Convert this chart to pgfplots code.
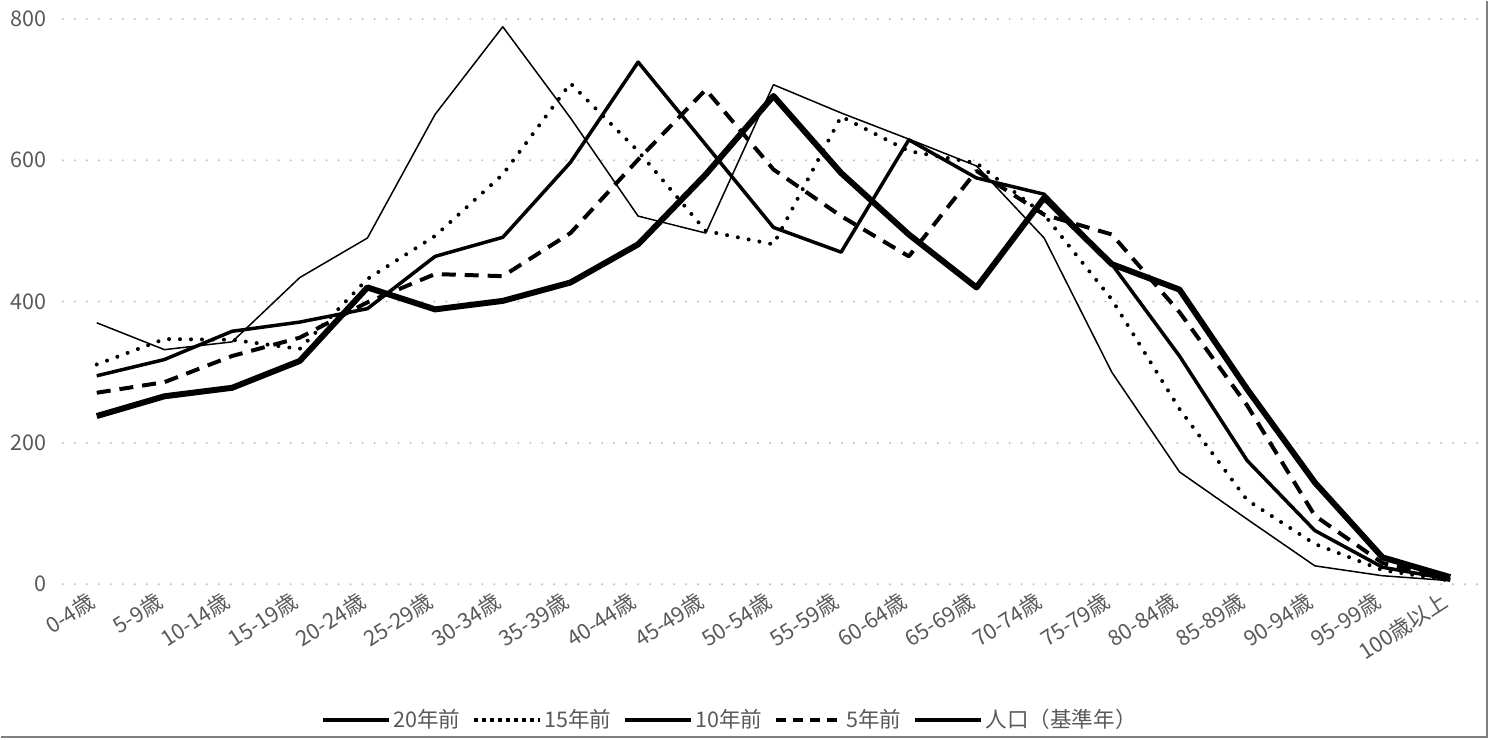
\documentclass[border=0pt]{standalone}
\usepackage{pgfplots}
\pgfplotsset{compat=1.18}
\usepackage{fontspec}
\setmainfont{Noto Sans CJK JP}

\definecolor{tickgray}{HTML}{595959}
\definecolor{gridgray}{HTML}{BFBFBF}
\definecolor{bordergray}{HTML}{7F7F7F}

\begin{document}
\begin{tikzpicture}
\begin{axis}[
  scale only axis, width=711.5pt, height=283pt,
  xmin=-0.5, xmax=20.5, ymin=0, ymax=800,
  xtick={0,...,20},
  xticklabels={0-4歳,5-9歳,10-14歳,15-19歳,20-24歳,25-29歳,30-34歳,35-39歳,40-44歳,45-49歳,50-54歳,55-59歳,60-64歳,65-69歳,70-74歳,75-79歳,80-84歳,85-89歳,90-94歳,95-99歳,100歳以上},
  ytick={0,200,400,600,800},
  axis line style={draw=none}, major tick length=0pt,
  ymajorgrids,
  grid style={gridgray, line width=1.1pt, line cap=round, dash pattern=on 0pt off 6pt},
  /pgf/number format/assume math mode=true,
  ticklabel style={font=\fontsize{10.8}{12}\selectfont, text=tickgray},
  yticklabel style={anchor=east, inner sep=0pt, xshift=-8pt},
  xticklabel style={xshift=-5pt, yshift=-3pt, rotate=33, anchor=north east, inner sep=0pt},
  legend image code/.code={\draw[#1] (0pt,0pt) -- (33pt,0pt);},
  legend style={draw=none, fill=none, at={(0.4694,-0.2403)}, anchor=center,
    legend columns=-1, font=\fontsize{10.8}{12}\selectfont, text=tickgray,
    nodes={inner sep=1pt},
    /tikz/every even column/.append style={column sep=5pt}},
  line join=round,
]
% 20年前
\addplot[black, line width=0.75pt, forget plot] coordinates {
 (0,370) (1,332) (2,343) (3,434) (4,490) (5,665) (6,789) (7,660) (8,521) (9,497)
 (10,707) (11,667) (12,630) (13,592) (14,490) (15,300) (16,159) (17,92) (18,26) (19,12) (20,5)};
% 15年前
\addplot[black, line width=2pt, line cap=round, dash pattern=on 0pt off 5.5pt, forget plot] coordinates {
 (0,311) (1,347) (2,346) (3,333) (4,432) (5,493) (6,580) (7,709) (8,613) (9,500)
 (10,481) (11,662) (12,613) (13,596) (14,523) (15,403) (16,248) (17,119) (18,57) (19,20) (20,5)};
% 10年前
\addplot[black, line width=1.75pt, forget plot] coordinates {
 (0,295) (1,318) (2,358) (3,371) (4,390) (5,464) (6,491) (7,597) (8,739) (9,622)
 (10,505) (11,470) (12,629) (13,575) (14,552) (15,453) (16,323) (17,175) (18,76) (19,24) (20,7)};
% 5年前
\addplot[black, line width=2pt, dash pattern=on 7pt off 4.5pt, forget plot] coordinates {
 (0,271) (1,286) (2,323) (3,349) (4,399) (5,439) (6,436) (7,497) (8,601) (9,700)
 (10,587) (11,521) (12,464) (13,585) (14,523) (15,495) (16,385) (17,253) (18,97) (19,30) (20,6)};
% 人口（基準年）
\addplot[black, line width=3pt, forget plot] coordinates {
 (0,238) (1,266) (2,278) (3,316) (4,420) (5,389) (6,401) (7,427) (8,481) (9,580)
 (10,691) (11,582) (12,495) (13,420) (14,547) (15,453) (16,417) (17,276) (18,144) (19,38) (20,10)};

\addlegendimage{black, line width=2pt}
\addlegendentry{20年前}
\addlegendimage{black, line width=2pt, dash pattern=on 2pt off 2pt}
\addlegendentry{15年前}
\addlegendimage{black, line width=2pt}
\addlegendentry{10年前}
\addlegendimage{black, line width=2pt, dash pattern=on 5pt off 3.5pt}
\addlegendentry{5年前}
\addlegendimage{black, line width=2.2pt}
\addlegendentry{人口（基準年）}
\end{axis}
\draw[bordergray, line width=1pt] (713pt,292pt) -- (713pt,-76.5pt) -- (-31pt,-76.5pt);
\path[use as bounding box] (-30.5pt,-77.5pt) rectangle (716pt,291pt);
\end{tikzpicture}
\end{document}
